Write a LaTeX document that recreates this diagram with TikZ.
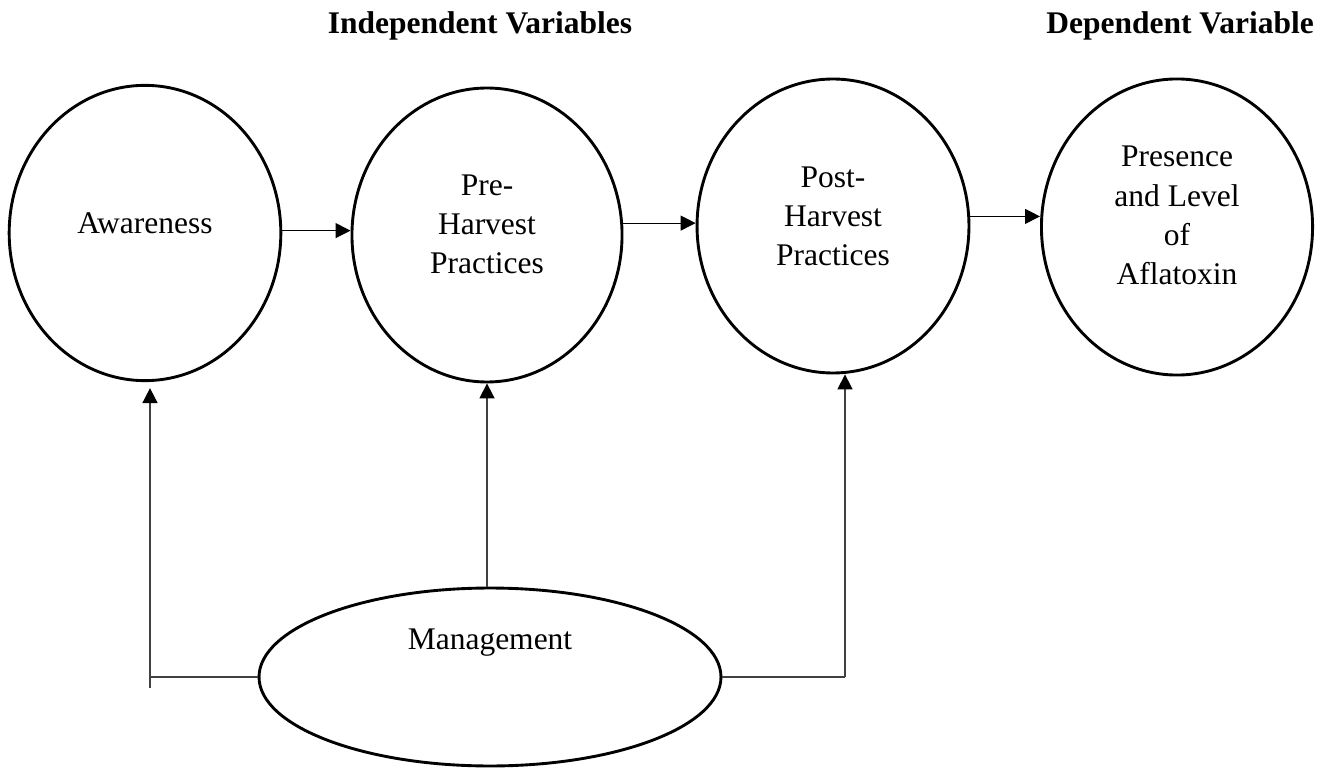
\documentclass[tikz,border=0pt]{standalone}
\usepackage{fontspec}
\setmainfont{Liberation Serif}
\usetikzlibrary{arrows.meta,positioning,shapes.geometric}

\begin{document}
\begin{tikzpicture}[
  x=0.381pt, y=-0.381pt,
  var/.style={ellipse, draw, line width=1.1pt, inner sep=0pt,
    minimum width=103.5pt, minimum height=112.5pt},
  txt/.style={align=center, font=\fontsize{12}{14.9}\selectfont},
  head/.style={font=\fontsize{12}{14.9}\selectfont\bfseries},
  link/.style={->, line width=0.45pt},
  feed/.style={-{Triangle[length=5.7pt,width=5.7pt,black]}, draw=black!75, line width=0.65pt},
  >={Triangle[length=5.7pt,width=5.7pt]}
]
  \useasboundingbox (0,0) rectangle (1330,769);

  \node[head] (IV) at (480,26) {Independent Variables};
  \node[head] (DV) at (1180,26) {Dependent Variable};

  \node[var, label={[txt,yshift=3.8pt]center:Awareness}] (AW) at (145,233) {};
  \node[var, minimum width=102.9pt, minimum height=112pt,
    label={[txt,yshift=4.2pt]center:Pre-\\Harvest\\Practices}] (PRE) at (487,235) {};
  \node[var, minimum width=103.6pt, minimum height=112pt,
    label={[txt,yshift=3.6pt]center:Post-\\Harvest\\Practices}] (POST) at (833,226) {};
  \node[var, minimum width=103.3pt, minimum height=112.8pt,
    label={[txt,yshift=4.4pt]center:Presence\\and Level\\of\\Aflatoxin}] (AF) at (1177,227) {};
  \node[var, minimum width=176pt, minimum height=67.8pt,
    label={[txt,yshift=13.3pt]center:Management}] (MG) at (490,677) {};

  \coordinate (LB) at (150,688);
  \coordinate (RB) at (845,677);

  \draw[link] (AW.1) -- (AW.1 -| PRE.west);
  \draw[link] (PRE.5) -- (PRE.5 -| POST.west);
  \draw[link] (POST.4) -- (POST.4 -| AF.west);

  \draw[feed, -] (MG.west) -- (MG.west -| LB);
  \draw[feed, shorten >=2.3pt] (LB) -- (LB |- AW.south);
  \draw[feed] (PRE.south |- MG.north) -- (PRE.south);
  \draw[feed, -] (MG.east) -- (RB);
  \draw[feed] (RB) -- (RB |- POST.south);
\end{tikzpicture}
\end{document}
